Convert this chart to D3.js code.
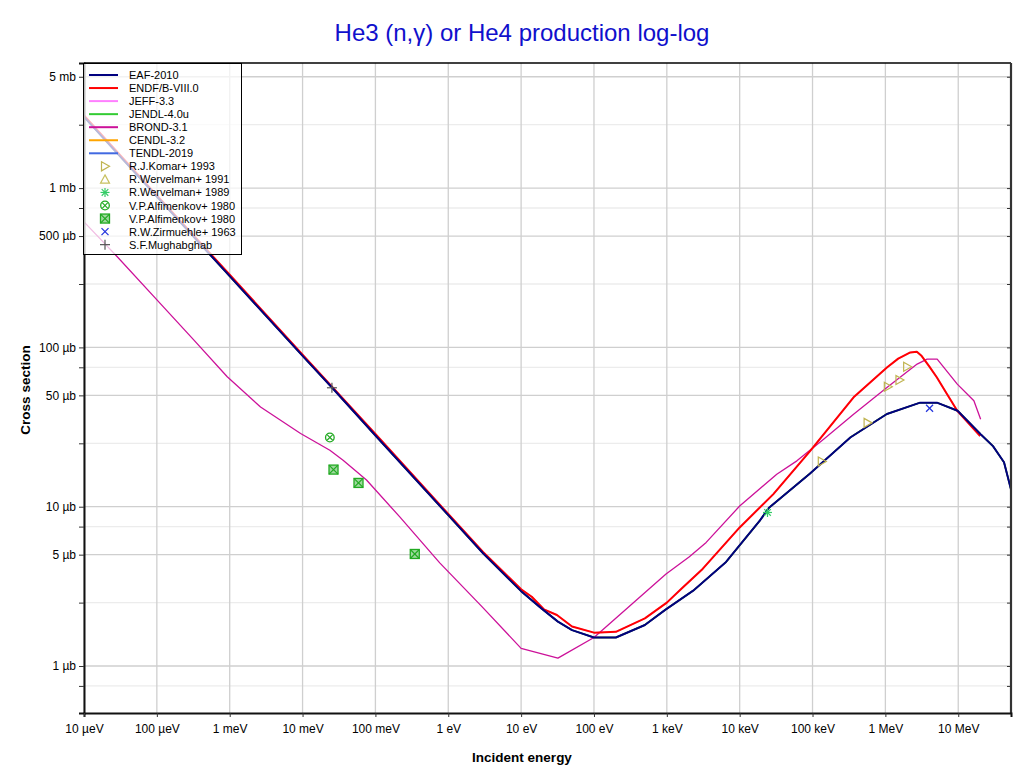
<!DOCTYPE html>
<html><head><meta charset="utf-8">
<script src="https://cdn.jsdelivr.net/npm/d3@7/dist/d3.min.js"></script>
<style>body{margin:0;background:#fff;} svg{display:block;font-family:"Liberation Sans",Arial,sans-serif;}</style>
</head><body>
<svg id="chart" width="1020" height="773"></svg>
<script>
// ---------- data (energy in eV, cross section in barns) ----------
const xTickValues = [1e-5,1e-4,1e-3,1e-2,1e-1,1,10,100,1e3,1e4,1e5,1e6,1e7];
const xTickLabels = ["10 µeV","100 µeV","1 meV","10 meV","100 meV","1 eV","10 eV","100 eV","1 keV","10 keV","100 keV","1 MeV","10 MeV"];
const yTickValues = [5e-3,1e-3,5e-4,1e-4,5e-5,1e-5,5e-6,1e-6];
const yTickLabels = ["5 mb","1 mb","500 µb","100 µb","50 µb","10 µb","5 µb","1 µb"];
const yMinorValues = [2.5e-3,7.5e-4,2.5e-4,7.5e-5,2.5e-5,7.5e-6,2.5e-6,7.5e-7];

const eafE = [1e-5,1e-4,1e-3,1e-2,2.53e-2,1e-1,1,3,10,19,32,50,100,200,500,950,2.3e3,6.5e3,1.9e4,2.5e4,9e4,3.3e5,1.05e6,3e6,5.1e6,9.8e6,2.03e7,3e7,4.25e7,5.5e7];
const eafS = [2.8e-3,8.85e-4,2.8e-4,8.85e-5,5.6e-5,2.8e-5,8.85e-6,5.1e-6,2.95e-6,2.3e-6,1.9e-6,1.68e-6,1.51e-6,1.51e-6,1.81e-6,2.25e-6,2.97e-6,4.5e-6,8.2e-6,9.8e-6,1.6e-5,2.72e-5,3.82e-5,4.5e-5,4.5e-5,4.0e-5,2.85e-5,2.4e-5,1.9e-5,1.2e-5];

const endfE = [1e-5,1e-4,1e-3,1e-2,1e-1,1,3,10,14,20.5,31,50,100,200,500,1e3,1.6e3,3.1e3,1e4,2.9e4,9.3e4,3.66e5,1.05e6,1.5e6,2.2e6,2.7e6,3.1e6,4e6,5.1e6,7e6,9.7e6,2e7];
const endfS = [2.86e-3,9.0e-4,2.86e-4,9.0e-5,2.86e-5,9.0e-6,5.2e-6,3.03e-6,2.72e-6,2.27e-6,2.09e-6,1.77e-6,1.62e-6,1.64e-6,1.99e-6,2.5e-6,3.07e-6,4.07e-6,7.41e-6,1.2e-5,2.24e-5,4.86e-5,7.48e-5,8.5e-5,9.3e-5,9.4e-5,8.9e-5,7.6e-5,6.47e-5,5.1e-5,4.0e-5,2.78e-5];

const brondE = [1e-5,2.86e-5,1.01e-4,3.23e-4,9.25e-4,2.65e-3,9.4e-3,2.37e-2,3.6e-2,7.55e-2,0.216,0.764,2.92,10,32,100,975,2.04e3,3.47e3,1e4,3.23e4,6.1e4,1.42e5,3.66e5,1.05e6,2.73e6,3.74e6,5.14e6,9.7e6,1.64e7,2.03e7];
const brondS = [6.14e-4,3.71e-4,1.98e-4,1.11e-4,6.54e-5,4.23e-5,2.88e-5,2.26e-5,1.96e-5,1.47e-5,8.63e-6,4.44e-6,2.35e-6,1.29e-6,1.12e-6,1.51e-6,3.78e-6,4.85e-6,5.97e-6,1.01e-5,1.6e-5,1.94e-5,2.65e-5,3.81e-5,5.6e-5,7.86e-5,8.45e-5,8.45e-5,5.88e-5,4.62e-5,3.54e-5];

// other libraries coincide with EAF / ENDF curves
const jeffE = endfE, jeffS = endfS;
const jendlE = eafE, jendlS = eafS;
const cendlE = eafE, cendlS = eafS;
const tendlE = eafE, tendlS = eafS;

const libNames  = ["EAF-2010","ENDF/B-VIII.0","JEFF-3.3","JENDL-4.0u","BROND-3.1","CENDL-3.2","TENDL-2019"];
const libColors = ["#000080","#ff0000","#ff80ff","#33cc33","#cc1199","#ffa500","#4169e1"];
const libWidths = [2,2,1.5,1.5,1.3,1.5,1.5];
const libE = [eafE,endfE,jeffE,jendlE,brondE,cendlE,tendlE];
const libS = [eafS,endfS,jeffS,jendlS,brondS,cendlS,tendlS];
const drawOrder = [6,5,3,2,4,1,0];

const komarE = [1.34e5,5.7e5,1.08e6,1.56e6,1.99e6];
const komarS = [1.92e-5,3.36e-5,5.67e-5,6.24e-5,7.56e-5];
const werv91E = [];
const werv91S = [];
const werv89E = [2.41e4];
const werv89S = [9.2e-6];
const alfCircE = [2.37e-2];
const alfCircS = [2.72e-5];
const alfBoxE = [2.66e-2,5.86e-2,0.347];
const alfBoxS = [1.71e-5,1.41e-5,5.05e-6];
const zirmE = [4.04e6];
const zirmS = [4.15e-5];
const mughE = [2.53e-2];
const mughS = [5.58e-5];

const expNames  = ["R.J.Komar+ 1993","R.Wervelman+ 1991","R.Wervelman+ 1989","V.P.Alfimenkov+ 1980","V.P.Alfimenkov+ 1980","R.W.Zirmuehle+ 1963","S.F.Mughabghab"];
const expColors = ["#c0b450","#c8c060","#33cc66","#22aa22","#22aa22","#2233dd","#555555"];
const expShapes = ["triRight","triUp","aster","circX","boxX","cross","plus"];
const expE = [komarE,werv91E,werv89E,alfCircE,alfBoxE,zirmE,mughE];
const expS = [komarS,werv91S,werv89S,alfCircS,alfBoxS,zirmS,mughS];

// ---------- layout ----------
const L = 84, R = 1011, T = 63, B = 713;
const svg = d3.select("#chart");
const x = d3.scaleLog().domain([1e-5, 5.3e7]).range([L, R]);
const y = d3.scaleLog().domain([5.07e-7, 6.1e-3]).range([B, T]);

svg.append("rect").attr("width",1020).attr("height",773).attr("fill","#fff");

// grid
const g = svg.append("g");
g.selectAll(".ymin").data(yMinorValues).enter().append("line")
  .attr("x1",L).attr("x2",R).attr("y1",d=>y(d)).attr("y2",d=>y(d))
  .attr("stroke","#ececec").attr("stroke-width",1.3);
g.selectAll(".ymaj").data(yTickValues).enter().append("line")
  .attr("x1",L).attr("x2",R).attr("y1",d=>y(d)).attr("y2",d=>y(d))
  .attr("stroke","#cfcfcf").attr("stroke-width",1.3);
g.selectAll(".xmaj").data(xTickValues).enter().append("line")
  .attr("y1",T).attr("y2",B).attr("x1",d=>x(d)).attr("x2",d=>x(d))
  .attr("stroke","#cfcfcf").attr("stroke-width",1.3);

// clip
svg.append("clipPath").attr("id","clip").append("rect")
  .attr("x",L).attr("y",T).attr("width",R-L).attr("height",B-T);
const plot = svg.append("g").attr("clip-path","url(#clip)");

const line = d3.line().x(d=>x(d[0])).y(d=>y(d[1]));
drawOrder.forEach(i=>{
  const pts = libE[i].map((e,k)=>[e, libS[i][k]]);
  plot.append("path").attr("d", line(pts)).attr("fill","none")
    .attr("stroke", libColors[i]).attr("stroke-width", libWidths[i])
    .attr("stroke-linejoin","round");
});

// markers
function marker(sel, shape, color){
  const s = sel.append("g");
  const ln = (a,b,c,d)=>s.append("line").attr("x1",a).attr("y1",b).attr("x2",c).attr("y2",d).attr("stroke",color).attr("stroke-width",1.2);
  if(shape==="triRight") s.append("path").attr("d","M-3.5,-4.5L4.5,0L-3.5,4.5Z").attr("fill","none").attr("stroke",color).attr("stroke-width",1.2);
  else if(shape==="triUp") s.append("path").attr("d","M0,-4.5L4.5,3.8L-4.5,3.8Z").attr("fill","none").attr("stroke",color).attr("stroke-width",1.2);
  else if(shape==="aster"){ ln(-4.5,0,4.5,0); ln(0,-4.5,0,4.5); ln(-3.3,-3.3,3.3,3.3); ln(-3.3,3.3,3.3,-3.3); }
  else if(shape==="circX"){ s.append("circle").attr("r",4.3).attr("fill","none").attr("stroke",color).attr("stroke-width",1.3); ln(-2.8,-2.8,2.8,2.8); ln(-2.8,2.8,2.8,-2.8); }
  else if(shape==="boxX"){ s.append("rect").attr("x",-4.5).attr("y",-4.5).attr("width",9).attr("height",9).attr("fill","#9fd89f").attr("stroke",color).attr("stroke-width",1.3); ln(-4.5,-4.5,4.5,4.5); ln(-4.5,4.5,4.5,-4.5); }
  else if(shape==="cross"){ ln(-3.5,-3.5,3.5,3.5); ln(-3.5,3.5,3.5,-3.5); }
  else if(shape==="plus"){ ln(-5,0,5,0); ln(0,-5,0,5); }
  return s;
}
expE.forEach((arr,i)=>{
  arr.forEach((e,k)=>{
    marker(plot, expShapes[i], expColors[i]).attr("transform",`translate(${x(e)},${y(expS[i][k])})`);
  });
});

// frame
svg.append("line").attr("x1",L).attr("x2",R).attr("y1",T).attr("y2",T).attr("stroke","#000").attr("stroke-width",1.5);
svg.append("line").attr("x1",R).attr("x2",R).attr("y1",T).attr("y2",B).attr("stroke","#333").attr("stroke-width",2.2);

// axes
const yAxis = d3.axisLeft(y).tickValues(yTickValues.concat(yMinorValues))
  .tickFormat(d=>{const i=yTickValues.indexOf(d); return i>=0?yTickLabels[i]:"";})
  .tickSize(5).tickPadding(3);
const ya = svg.append("g").attr("transform",`translate(${L},0)`).call(yAxis);
ya.select(".domain").attr("stroke","#111").attr("stroke-width",2);
ya.selectAll("text").attr("font-size",12).attr("fill","#000").attr("font-family","Liberation Sans, Arial, sans-serif");
ya.selectAll(".tick line").attr("stroke","#333");

const yAxisR = d3.axisLeft(y).tickValues(yTickValues.concat(yMinorValues)).tickFormat("").tickSize(4);
const yr = svg.append("g").attr("transform",`translate(${R},0)`).call(yAxisR);
yr.select(".domain").remove();
yr.selectAll(".tick line").attr("stroke","#333").attr("x2",-4);

const xAxis = d3.axisBottom(x).tickValues(xTickValues)
  .tickFormat((d,i)=>xTickLabels[i]).tickSize(4).tickPadding(7);
const xa = svg.append("g").attr("transform",`translate(0,${B})`).call(xAxis);
xa.select(".domain").attr("stroke","#111").attr("stroke-width",2);
xa.selectAll("text").attr("font-size",12).attr("fill","#000").attr("font-family","Liberation Sans, Arial, sans-serif");
xa.selectAll(".tick line").attr("stroke","#333");

// titles
svg.append("text").attr("x",522).attr("y",41).attr("text-anchor","middle")
  .attr("font-size",24).attr("fill","#1010cc").text("He3 (n,γ) or He4 production log-log");
svg.append("text").attr("x",522).attr("y",762).attr("text-anchor","middle")
  .attr("font-size",13.5).attr("font-weight","bold").text("Incident energy");
svg.append("text").attr("transform","translate(30,390) rotate(-90)").attr("text-anchor","middle")
  .attr("font-size",13.5).attr("font-weight","bold").text("Cross section");

// legend
const lg = svg.append("g");
lg.append("rect").attr("x",83.5).attr("y",63.5).attr("width",158).attr("height",191)
  .attr("fill","#fff").attr("fill-opacity",0.72).attr("stroke","#000").attr("stroke-width",1);
const rowY = i => 75 + i*13.05;
libNames.forEach((n,i)=>{
  lg.append("line").attr("x1",89).attr("x2",118).attr("y1",rowY(i)).attr("y2",rowY(i))
    .attr("stroke",libColors[i]).attr("stroke-width",2);
  lg.append("text").attr("x",129).attr("y",rowY(i)+4).attr("font-size",11).text(n);
});
expNames.forEach((n,j)=>{
  const i = j + libNames.length;
  marker(lg, expShapes[j], expColors[j]).attr("transform",`translate(105,${rowY(i)})`);
  lg.append("text").attr("x",129).attr("y",rowY(i)+4).attr("font-size",11).text(n);
});
</script>
</body></html>
